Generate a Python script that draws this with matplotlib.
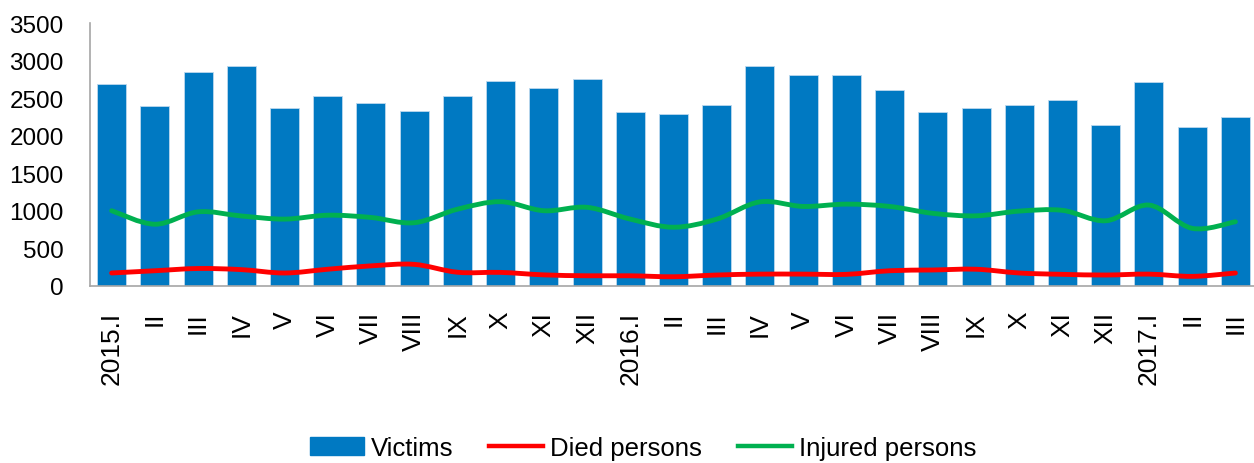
import matplotlib.pyplot as plt
from matplotlib.path import Path
from matplotlib.patches import PathPatch, Patch
from matplotlib.lines import Line2D

plt.rcParams['font.family'] = ['Liberation Sans', 'DejaVu Sans']

# Data
months = ['2015.I', 'II', 'III', 'IV', 'V', 'VI', 'VII', 'VIII', 'IX', 'X', 'XI', 'XII',
          '2016.I', 'II', 'III', 'IV', 'V', 'VI', 'VII', 'VIII', 'IX', 'X', 'XI', 'XII',
          '2017.I', 'II', 'III']
victims = [2690, 2400, 2855, 2930, 2375, 2530, 2435, 2335, 2535, 2735, 2635, 2750,
           2320, 2295, 2415, 2930, 2810, 2810, 2615, 2320, 2375, 2415, 2480, 2140,
           2715, 2120, 2255]
died = [170, 200, 230, 215, 170, 220, 265, 285, 180, 178, 145, 133,
        133, 120, 143, 155, 155, 152, 200, 210, 220, 170, 152, 143,
        155, 125, 170]
injured = [1000, 820, 985, 930, 888, 940, 910, 840, 1020, 1120, 1000, 1045,
           888, 780, 888, 1118, 1057, 1088, 1057, 965, 932, 995, 1005, 866,
           1075, 765, 853]


# smooth line like the spreadsheet one (cubic bezier through the points)
def smooth_path(xs, ys):
    n = len(xs)
    verts = [(xs[0], ys[0])]
    codes = [Path.MOVETO]
    for i in range(n - 1):
        i0 = max(i - 1, 0)
        i3 = min(i + 2, n - 1)
        c1 = (xs[i] + (xs[i + 1] - xs[i0]) / 6, ys[i] + (ys[i + 1] - ys[i0]) / 6)
        c2 = (xs[i + 1] - (xs[i3] - xs[i]) / 6, ys[i + 1] - (ys[i3] - ys[i]) / 6)
        verts += [c1, c2, (xs[i + 1], ys[i + 1])]
        codes += [Path.CURVE4] * 3
    return Path(verts, codes)


fig = plt.figure(figsize=(12.54, 4.64), dpi=100)
ax = fig.add_axes([0.0718, 0.382, 0.9306, 0.566])

x = list(range(len(months)))
ax.bar(x, victims, width=0.67, color='#0079C2', edgecolor='#BCD8EE', linewidth=0.6, zorder=2)

ax.add_patch(PathPatch(smooth_path(x, died), fill=False, edgecolor='#FF0000',
                       linewidth=3.5, capstyle='round', zorder=3))
ax.add_patch(PathPatch(smooth_path(x, injured), fill=False, edgecolor='#00B050',
                       linewidth=3.5, capstyle='round', zorder=3))

ax.set_xlim(-0.5, len(months) - 0.5)
ax.set_ylim(0, 3500)
ax.set_yticks(range(0, 3501, 500))
ax.set_xticks(x)
ax.set_xticklabels(months, rotation=90, fontsize=19)
ax.tick_params(axis='y', length=0, pad=19, labelsize=17.5)
ax.tick_params(axis='x', length=0, pad=18)

for side in ['top', 'right']:
    ax.spines[side].set_visible(False)
for side in ['left', 'bottom']:
    ax.spines[side].set_color('#A6A6A6')
    ax.spines[side].set_linewidth(1.2)

handles = [Patch(facecolor='#0079C2', edgecolor='#0079C2'),
           Line2D([], [], color='#FF0000', linewidth=3.2),
           Line2D([], [], color='#00B050', linewidth=3.2)]
labels = ['Victims', 'Died persons', 'Injured persons']
fig.legend(handles, labels, loc='center', bbox_to_anchor=(0.513, 0.032), ncol=3,
           frameon=False, fontsize=18.5, handlelength=2.1, handletextpad=0.27,
           columnspacing=1.4, borderaxespad=0)

fig.savefig('out.png', dpi=100)
